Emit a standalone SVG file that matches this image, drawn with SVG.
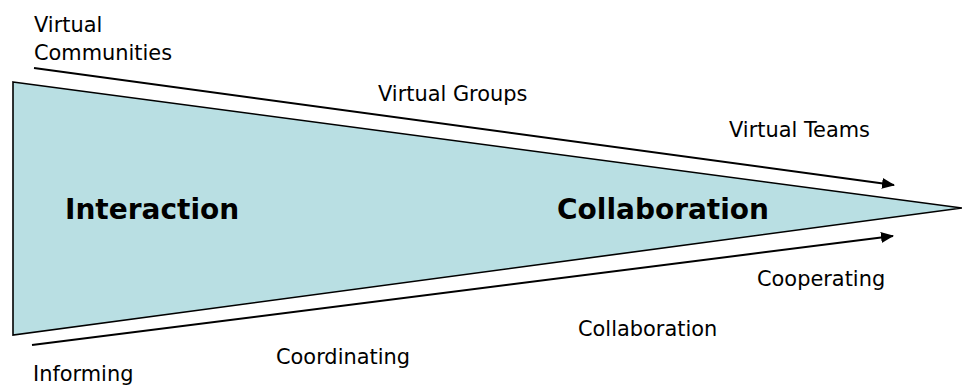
<svg xmlns="http://www.w3.org/2000/svg" width="962" height="387" viewBox="0 0 962 387">
  <style>
    .lbl { font-family: "DejaVu Sans", Verdana, sans-serif; font-size: 20.9px; fill: #000; }
    .big { font-family: "DejaVu Sans", Verdana, sans-serif; font-size: 28px; font-weight: bold; fill: #000; }
    .conn { stroke: #000; stroke-width: 2; fill: none; marker-end: url(#arrow); }
  </style>
  <defs>
    <marker id="arrow" viewBox="0 0 13 11" refX="12" refY="5.5" markerWidth="13" markerHeight="11" markerUnits="userSpaceOnUse" orient="auto">
      <path d="M0,0 L13,5.5 L0,11 Z" fill="#000"/>
    </marker>
  </defs>
  <rect width="962" height="387" fill="#fff"/>

  <g id="funnel">
    <polygon points="13,82 962,208 13,335" fill="#B9DFE3" stroke="#000" stroke-width="1.6" stroke-linejoin="miter"/>
    <text class="big" x="65" y="219">Interaction</text>
    <text class="big" x="557" y="219">Collaboration</text>
  </g>

  <g id="connectors">
    <line class="conn" x1="34" y1="68" x2="894" y2="185"/>
    <line class="conn" x1="32" y1="345" x2="893" y2="236"/>
  </g>

  <g id="upper-labels">
    <text class="lbl" x="34" y="31.5">Virtual</text>
    <text class="lbl" x="34" y="60">Communities</text>
    <text class="lbl" x="378" y="101">Virtual Groups</text>
    <text class="lbl" x="729" y="137">Virtual Teams</text>
  </g>

  <g id="lower-labels">
    <text class="lbl" x="757" y="286">Cooperating</text>
    <text class="lbl" x="578" y="336">Collaboration</text>
    <text class="lbl" x="276" y="364">Coordinating</text>
    <text class="lbl" x="33" y="381">Informing</text>
  </g>
</svg>
